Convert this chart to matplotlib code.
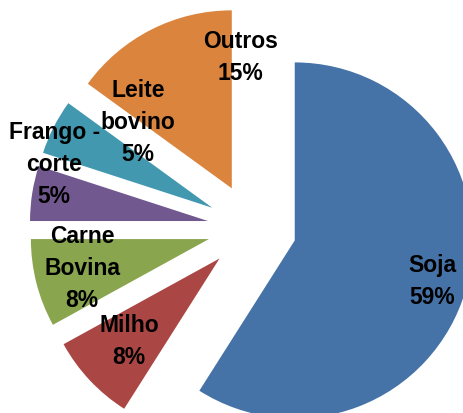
import matplotlib
matplotlib.use("Agg")
import matplotlib.pyplot as plt

categories = ["Soja", "Milho", "Carne\nBovina", "Frango -\ncorte", "Leite\nbovino", "Outros"]
values = [59, 8, 8, 5, 5, 15]
pct_labels = ["59%", "8%", "8%", "5%", "5%", "15%"]
colors = ["#4572A7", "#AA4643", "#89A54E", "#71588F", "#4198AF", "#DB843D"]

# label positions (data units, pie radius = 1)
label_pos = [(1.011, -0.303), (-0.691, -0.640), (-0.955, -0.228),
             (-1.112, 0.355), (-0.640, 0.590), (-0.067, 0.960)]

fig = plt.figure(figsize=(4.64, 4.13), dpi=100)
ax = fig.add_axes([0, 0, 1, 1])
ax.pie(values, colors=colors, startangle=90, counterclock=False,
       explode=[0.25] * len(values), radius=1,
       wedgeprops=dict(linewidth=0))
ax.set_aspect("auto")
ax.set_xlim(-252 / 178, 212 / 178)
ax.set_ylim(-185 / 178, 228 / 178)
ax.axis("off")

for cat, pct, (x, y) in zip(categories, pct_labels, label_pos):
    ax.text(x, y, f"{cat}\n{pct}", ha="center", va="center",
            fontsize=16.5, fontweight="bold", family=["Liberation Sans", "DejaVu Sans"],
            linespacing=1.5, color="black")

fig.savefig("out.png", dpi=100)
